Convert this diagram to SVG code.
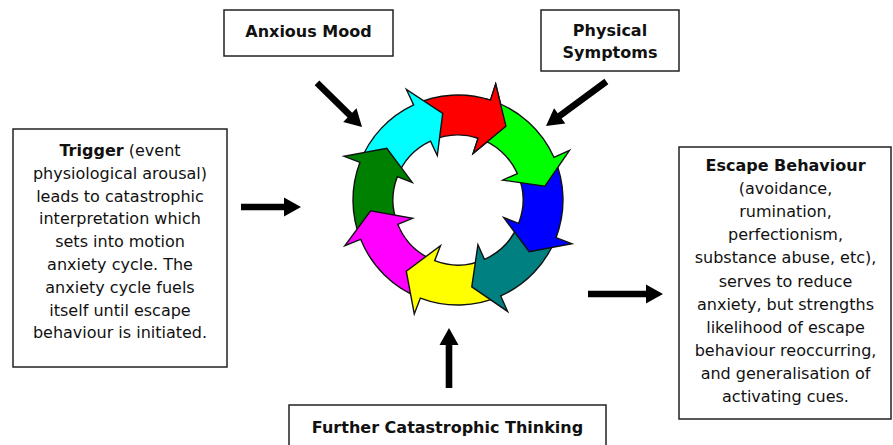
<svg xmlns="http://www.w3.org/2000/svg" width="893" height="445" viewBox="0 0 893 445">
<style>
.box{fill:#fff;stroke:#222;stroke-width:1.5}
.t{font-family:"DejaVu Sans",Verdana,sans-serif;font-size:16px;fill:#111;text-anchor:middle}
.b{font-weight:bold}
.seg{stroke:#111;stroke-width:1.4;stroke-linejoin:miter}
.arr{fill:#000}
</style>
<rect width="893" height="445" fill="#fff"/>
<g id="cycle">
<path class="seg" fill="#ff0000" d="M413.63,104.84 A105,105 0 0 1 490.45,100.13 L495.70,83.97 L505.92,126.19 L473.14,153.40 L478.09,138.18 A65,65 0 0 0 430.53,141.09 Z"/>
<path class="seg" fill="#00ffff" d="M359.97,162.37 A105,105 0 0 1 413.63,104.84 L406.44,89.43 L442.72,113.34 L437.29,155.59 L430.53,141.09 A65,65 0 0 0 397.32,176.70 Z"/>
<path class="seg" fill="#008000" d="M360.64,239.33 A105,105 0 0 1 359.97,162.37 L344.10,156.28 L386.81,148.27 L412.25,182.44 L397.32,176.70 A65,65 0 0 0 397.73,224.35 Z"/>
<path class="seg" fill="#ff00ff" d="M420.37,298.03 A105,105 0 0 1 360.64,239.33 L344.88,245.70 L370.66,210.73 L412.57,218.36 L397.73,224.35 A65,65 0 0 0 434.70,260.68 Z"/>
<path class="seg" fill="#ffff00" d="M500.70,295.92 A105,105 0 0 1 420.37,298.03 L414.28,313.90 L406.27,271.19 L440.44,245.75 L434.70,260.68 A65,65 0 0 0 484.44,259.38 Z"/>
<path class="seg" fill="#008080" d="M556.03,237.63 A105,105 0 0 1 500.70,295.92 L507.62,311.45 L471.76,286.92 L477.93,244.76 L484.44,259.38 A65,65 0 0 0 518.68,223.30 Z"/>
<path class="seg" fill="#0000ff" d="M553.92,157.30 A105,105 0 0 1 556.03,237.63 L571.90,243.72 L529.19,251.73 L503.75,217.56 L518.68,223.30 A65,65 0 0 0 517.38,173.56 Z"/>
<path class="seg" fill="#00ff00" d="M490.45,100.13 A105,105 0 0 1 553.92,157.30 L569.45,150.38 L544.92,186.24 L502.76,180.07 L517.38,173.56 A65,65 0 0 0 478.09,138.18 Z"/>
<path class="seg" fill="#ff0000" d="M485.18,98.58 A105,105 0 0 1 490.45,100.13 L495.70,83.97 L505.92,126.19 L473.14,153.40 L478.09,138.18 A65,65 0 0 0 474.82,137.22"/>
</g>
<g id="anxious-mood">
<rect class="box" x="224" y="10" width="169" height="46"/>
<text class="t b" x="308.5" y="37">Anxious Mood</text>
</g>
<g id="physical-symptoms">
<rect class="box" x="541" y="10" width="138" height="61"/>
<text class="t b" x="610" y="36">Physical</text>
<text class="t b" x="610" y="58">Symptoms</text>
</g>
<g id="trigger">
<rect class="box" x="13" y="129" width="214" height="238"/>
<text class="t" x="120" y="156"><tspan class="b">Trigger</tspan> (event</text>
<text class="t" x="120" y="178.8">physiological arousal)</text>
<text class="t" x="120" y="201.6">leads to catastrophic</text>
<text class="t" x="120" y="224.4">interpretation which</text>
<text class="t" x="120" y="247.2">sets into motion</text>
<text class="t" x="120" y="270">anxiety cycle. The</text>
<text class="t" x="120" y="292.8">anxiety cycle fuels</text>
<text class="t" x="120" y="315.6">itself until escape</text>
<text class="t" x="120" y="338.4">behaviour is initiated.</text>
</g>
<g id="escape-behaviour">
<rect class="box" x="679" y="147" width="212" height="272"/>
<text class="t b" x="785.5" y="171">Escape Behaviour</text>
<text class="t" x="785.5" y="194.1">(avoidance,</text>
<text class="t" x="785.5" y="217.2">rumination,</text>
<text class="t" x="785.5" y="240.3">perfectionism,</text>
<text class="t" x="785.5" y="263.4">substance abuse, etc),</text>
<text class="t" x="785.5" y="286.5">serves to reduce</text>
<text class="t" x="785.5" y="309.6">anxiety, but strengths</text>
<text class="t" x="785.5" y="332.7">likelihood of escape</text>
<text class="t" x="785.5" y="355.8">behaviour reoccurring,</text>
<text class="t" x="785.5" y="378.9">and generalisation of</text>
<text class="t" x="785.5" y="402">activating cues.</text>
</g>
<g id="further-thinking">
<rect class="box" x="289" y="405" width="317" height="60"/>
<text class="t b" x="447.5" y="433">Further Catastrophic Thinking</text>
</g>
<g id="connectors">
<polygon class="arr" transform="translate(362,127) rotate(44.4)" points="-63,-3.3 -17,-3.3 -17,-9.5 0,0 -17,9.5 -17,3.3 -63,3.3"/>
<polygon class="arr" transform="translate(546,126) rotate(143.6)" points="-75,-3.3 -17,-3.3 -17,-9.5 0,0 -17,9.5 -17,3.3 -75,3.3"/>
<polygon class="arr" transform="translate(301,207)" points="-60,-3.3 -17,-3.3 -17,-9.5 0,0 -17,9.5 -17,3.3 -60,3.3"/>
<polygon class="arr" transform="translate(663,294)" points="-75,-3.3 -17,-3.3 -17,-9.5 0,0 -17,9.5 -17,3.3 -75,3.3"/>
<polygon class="arr" transform="translate(449,328) rotate(-90)" points="-60,-3.3 -17,-3.3 -17,-9.5 0,0 -17,9.5 -17,3.3 -60,3.3"/>
</g>
</svg>
